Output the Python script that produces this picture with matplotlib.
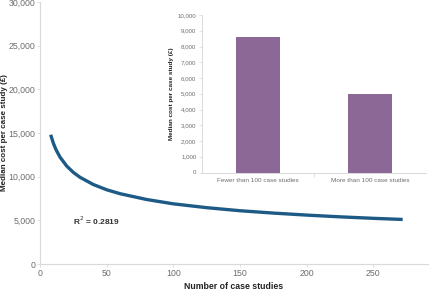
import matplotlib
matplotlib.use("Agg")
import matplotlib.pyplot as plt

plt.rcParams['font.family'] = ['Liberation Sans', 'DejaVu Sans']

# trend line
case_studies = [8, 10, 12, 15, 20, 25, 30, 40, 50, 60, 80, 100, 125, 150, 175, 200, 225, 250, 272]
median_cost = [14800, 13840, 13090, 12240, 11220, 10490, 9930, 9100, 8500, 8050, 7385,
               6890, 6450, 6100, 5830, 5600, 5400, 5230, 5100]
r_squared = '0.2819'

# inset bars
groups = ['Fewer than 100 case studies', 'More than 100 case studies']
group_cost = [8600, 4980]

line_col = '#1d5b86'
bar_col = '#8b6896'
grid_col = '#d9d9d9'
tick_col = '#6e6e6e'

fig = plt.figure(figsize=(4.29, 2.92), dpi=100)

# ---------------- main chart
ax = fig.add_axes([40/429, 1-264/292, 388/429, 262/292])
ax.plot(case_studies, median_cost, color=line_col, linewidth=2.4, solid_capstyle='butt')
ax.set_xlim(0, 291)
ax.set_ylim(0, 30000)
ax.set_xticks([0, 50, 100, 150, 200, 250])
ax.set_yticks(range(0, 30001, 5000))
ax.set_yticklabels([f'{v:,}' for v in range(0, 30001, 5000)])
for s in ['top', 'right']:
    ax.spines[s].set_visible(False)
for s in ['left', 'bottom']:
    ax.spines[s].set_color(grid_col)
    ax.spines[s].set_linewidth(0.8)
ax.tick_params(colors=grid_col, labelcolor=tick_col, labelsize=6.3, length=2, width=0.6, pad=1.5)
ax.set_xlabel('Number of case studies', fontsize=6.3, fontweight='bold', labelpad=3, color='#222222')
ax.set_ylabel('Median cost per case study (£)', fontsize=5.8, fontweight='bold', color='#222222')
ax.yaxis.set_label_coords(-0.083, 0.5)
ax.text(25, 4900, 'R$^2$ = ' + r_squared, fontsize=6, fontweight='bold', color='#333333', va='center')

# ---------------- inset chart
ins = fig.add_axes([202/429, 1-172.5/292, 224/429, 157.5/292])
ins.bar(range(len(groups)), group_cost, width=0.39, color=bar_col)
ins.set_xlim(-0.5, 1.5)
ins.set_ylim(0, 10000)
ins.set_yticks(range(0, 10001, 1000))
ins.set_yticklabels([f'{v:,}' for v in range(0, 10001, 1000)])
ins.set_xticks(range(len(groups)))
ins.set_xticklabels(groups)
ins.set_xticks([0.5], minor=True)
ins.tick_params(axis='x', which='major', length=0)
ins.tick_params(axis='x', which='minor', length=3, color=grid_col, width=0.6)
for s in ['top', 'right']:
    ins.spines[s].set_visible(False)
for s in ['left', 'bottom']:
    ins.spines[s].set_color(grid_col)
    ins.spines[s].set_linewidth(0.7)
ins.tick_params(axis='y', colors=grid_col, labelcolor=tick_col, labelsize=4.4, length=2, width=0.5, pad=2)
ins.tick_params(axis='x', labelcolor=tick_col, labelsize=4.6, pad=4)
ins.set_ylabel('Median cost per case study (£)', fontsize=4.6, fontweight='bold', labelpad=3, color='#222222')
ins.patch.set_alpha(0)

fig.savefig('out.png', dpi=100)
